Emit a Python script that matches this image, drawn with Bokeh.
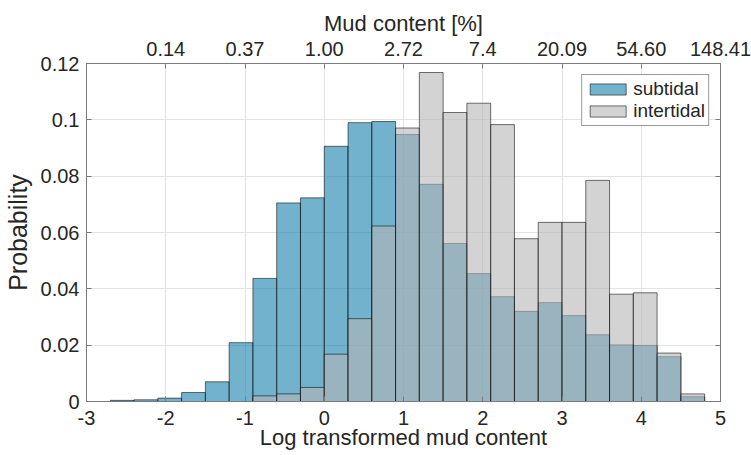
from bokeh.plotting import figure
from bokeh.models import LinearAxis, FixedTicker, CustomJSTickFormatter, Range1d
from bokeh.embed import file_html
from bokeh.resources import INLINE

# ---- data -------------------------------------------------------------
bin_edges = [-2.7, -2.4, -2.1, -1.8, -1.5, -1.2, -0.9, -0.6, -0.3, 0.0,
             0.3, 0.6, 0.9, 1.2, 1.5, 1.8, 2.1, 2.4, 2.7, 3.0,
             3.3, 3.6, 3.9, 4.2, 4.5, 4.8]
subtidal = [0.0004, 0.0006, 0.0012, 0.0032, 0.0070, 0.0209, 0.0437, 0.0705,
            0.0723, 0.0906, 0.0990, 0.0994, 0.0948, 0.0771, 0.0561, 0.0454,
            0.0372, 0.0320, 0.0351, 0.0305, 0.0237, 0.0201, 0.0199, 0.0159,
            0.0017]
intertidal = [0.0, 0.0, 0.0, 0.0, 0.0, 0.0, 0.0020, 0.0027,
              0.0050, 0.0168, 0.0294, 0.0623, 0.0971, 0.1168, 0.1026, 0.1059,
              0.0983, 0.0578, 0.0636, 0.0636, 0.0785, 0.0381, 0.0386, 0.0172,
              0.0027]
x_ticks = [-3, -2, -1, 0, 1, 2, 3, 4, 5]
x_tick_labels = ["-3", "-2", "-1", "0", "1", "2", "3", "4", "5"]
y_ticks = [0, 0.02, 0.04, 0.06, 0.08, 0.10, 0.12]
y_tick_labels = ["0", "0.02", "0.04", "0.06", "0.08", "0.1", "0.12"]
top_ticks = [-2, -1, 0, 1, 2, 3, 4, 5]
top_tick_labels = ["0.14", "0.37", "1.00", "2.72", "7.4", "20.09", "54.60", "148.41"]

FONT = "Liberation Sans"
TXT = "#262626"
AX = "#7a7a7a"

p = figure(width=751, height=455, output_backend="svg", toolbar_location=None,
           x_range=Range1d(-3, 5), y_range=Range1d(0, 0.12),
           min_border_left=86, min_border_right=31, min_border_top=63,
           min_border_bottom=54)
p.background_fill_color = "white"
p.border_fill_color = "white"
p.outline_line_color = AX
p.outline_line_width = 1

def bars(vals):
    L, R, T = [], [], []
    for i, v in enumerate(vals):
        if v > 0:
            L.append(bin_edges[i]); R.append(bin_edges[i + 1]); T.append(v)
    return L, R, T

L, R, T = bars(subtidal)
p.quad(left=L, right=R, top=T, bottom=0, fill_color=(20, 127, 170),
       fill_alpha=0.6, line_color="black", line_alpha=0.55, line_width=1,
       legend_label="subtidal")
L, R, T = bars(intertidal)
p.quad(left=L, right=R, top=T, bottom=0, fill_color=(182, 182, 182),
       fill_alpha=0.6, line_color="black", line_alpha=0.55, line_width=1,
       legend_label="intertidal")

def style_axis(ax):
    ax.axis_line_color = AX
    ax.major_tick_line_color = AX
    ax.major_tick_in = 5
    ax.major_tick_out = 0
    ax.minor_tick_line_color = None
    ax.major_label_text_font = FONT
    ax.major_label_text_font_size = "20px"
    ax.major_label_text_color = TXT
    ax.axis_label_text_font = FONT
    ax.axis_label_text_font_size = "22px"
    ax.axis_label_text_font_style = "normal"
    ax.axis_label_text_color = TXT

xa = p.xaxis[0]
xa.ticker = FixedTicker(ticks=x_ticks)
xa.major_label_overrides = {t: s for t, s in zip(x_ticks, x_tick_labels)}
xa.axis_label = "Log transformed mud content"
style_axis(xa)
xa.major_label_standoff = 9
xa.axis_label_standoff = -3

ya = p.yaxis[0]
ya.ticker = FixedTicker(ticks=y_ticks)
ya.major_label_overrides = {t: s for t, s in zip(y_ticks, y_tick_labels)}
ya.axis_label = "Probability"
style_axis(ya)
ya.axis_label_text_font_size = "25px"
ya.major_label_standoff = 7
ya.axis_label_standoff = 6

top = LinearAxis(ticker=FixedTicker(ticks=top_ticks),
                 major_label_overrides={t: s for t, s in zip(top_ticks, top_tick_labels)},
                 axis_label="Mud content [%]")
style_axis(top)
top.major_label_standoff = 8
top.axis_label_standoff = 3
p.add_layout(top, "above")

right = LinearAxis(ticker=FixedTicker(ticks=y_ticks),
                   formatter=CustomJSTickFormatter(code="return ''"))
style_axis(right)
right.major_label_standoff = 0
p.add_layout(right, "right")

p.xgrid.ticker = FixedTicker(ticks=x_ticks)
p.ygrid.ticker = FixedTicker(ticks=y_ticks)
p.grid.grid_line_color = "#e3e3e3"
p.grid.grid_line_width = 1

lg = p.legend[0]
lg.location = "top_right"
lg.margin = 11
lg.padding = 3
lg.spacing = 0
lg.glyph_width = 45
lg.glyph_height = 14
lg.label_standoff = 3
lg.label_height = 20
lg.label_text_font = FONT
lg.label_text_font_size = "19px"
lg.label_text_color = TXT
lg.border_line_color = "#333333"
lg.border_line_width = 1
lg.background_fill_color = "white"
lg.background_fill_alpha = 1.0

open("out.html", "w").write(file_html(p, INLINE))
